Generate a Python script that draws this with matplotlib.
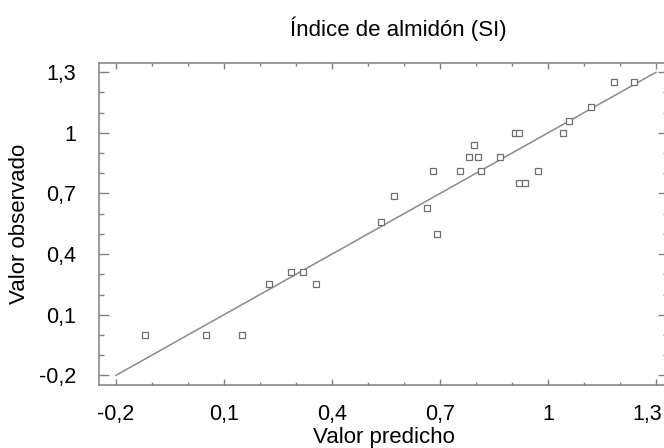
import numpy as np
import matplotlib
matplotlib.use("Agg")
import matplotlib.pyplot as plt
from matplotlib.transforms import ScaledTranslation

# --- Data --------------------------------------------------------------------
predicted = [1.184, 1.240, 1.119, 1.058, 1.041, 0.908, 0.919, 0.794, 0.781,
             0.806, 0.866, 0.681, 0.757, 0.814, 0.972, 0.919, 0.936, 0.572,
             0.664, 0.536, 0.693, -0.118, 0.049, 0.150, 0.225, 0.285, 0.320,
             0.357]
observed = [1.25, 1.25, 1.13, 1.06, 1.00, 1.00, 1.00, 0.94, 0.88,
            0.88, 0.88, 0.81, 0.81, 0.81, 0.81, 0.75, 0.75, 0.69,
            0.63, 0.56, 0.50, 0.00, 0.00, 0.00, 0.25, 0.31, 0.31,
            0.25]
ref_line = [-0.2, 1.3]
major_ticks = [-0.2, 0.1, 0.4, 0.7, 1.0, 1.3]
tick_labels = ["-0,2", "0,1", "0,4", "0,7", "1", "1,3"]

title = "Índice de almidón (SI)"
xlabel = "Valor predicho"
ylabel = "Valor observado"
# -----------------------------------------------------------------------------

plt.rcParams["font.family"] = ["Liberation Sans", "DejaVu Sans"]
GREY = "#808080"

fig = plt.figure(figsize=(6.64, 4.48), dpi=100)
ax = fig.add_axes([0.1498, 0.1406, 0.856, 0.7188])

ax.plot(ref_line, ref_line, color="#8a8a8a", linewidth=1.1)
ax.plot(predicted, observed, linestyle="none", marker="s", markersize=4.0,
        markerfacecolor="white", markeredgecolor="#6e6e6e", markeredgewidth=0.9)

ax.set_xlim(-0.2458, 1.333)
ax.set_ylim(-0.248, 1.346)

ax.set_xticks(major_ticks)
ax.set_xticklabels(tick_labels)
ax.set_yticks(major_ticks)
ax.set_yticklabels(tick_labels)
ax.set_xticks(np.arange(-0.2, 1.31, 0.1), minor=True)
ax.set_yticks(np.arange(-0.2, 1.31, 0.1), minor=True)

for sp in ax.spines.values():
    sp.set_color(GREY)
    sp.set_linewidth(1.1)

ax.tick_params(axis="x", which="major", direction="in", length=4.5, width=1.0,
               color=GREY, top=True, labelsize=15.5, pad=14)
ax.tick_params(axis="x", which="minor", direction="in", length=2.3, width=1.0,
               color=GREY, top=True)
ax.tick_params(axis="y", which="major", direction="in", length=7.2, width=1.0,
               color=GREY, right=True, labelsize=15.5, pad=17)
ax.tick_params(axis="y", which="minor", direction="in", length=3.6, width=1.0,
               color=GREY, right=True)

# last x label sits against the right edge of the image
last = ax.get_xticklabels()[-1]
last.set_horizontalalignment("right")
last.set_transform(last.get_transform() +
                   ScaledTranslation(6 / 100, 0, fig.dpi_scale_trans))

ax.set_xlabel(xlabel, fontsize=16, labelpad=1)
ax.set_ylabel(ylabel, fontsize=16, labelpad=6)
fig.text(0.6, 0.935, title, fontsize=16, ha="center", va="center")

fig.savefig("out.png", dpi=100)
